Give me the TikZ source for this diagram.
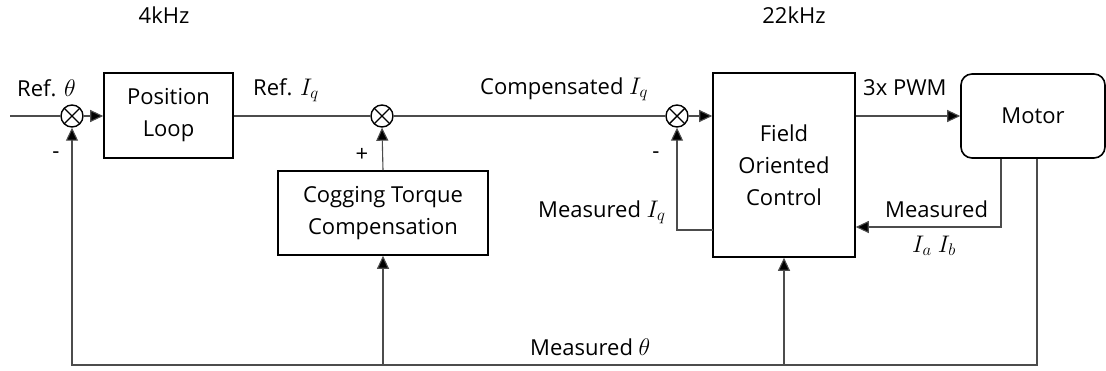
\RequirePackage{fix-cm}
\documentclass[tikz,border=0pt]{standalone}
\usepackage{fontspec}
\setmainfont{Open Sans}
\usetikzlibrary{arrows.meta,calc}
\newcommand{\mymath}[1]{{\fontsize{24}{32}\selectfont$#1$}}
\tikzset{
  lbl/.style={font=\fontsize{22}{32}\selectfont, inner sep=0pt},
  blk/.style={draw=black, line width=1.6pt, rectangle, align=center, font=\fontsize{22}{32}\selectfont, inner sep=0pt},
  sumj/.style={draw=black, line width=1.4pt, circle, minimum size=22pt, inner sep=0pt,
    path picture={\draw[line width=1.4pt] (path picture bounding box.north west) -- (path picture bounding box.south east)
                  (path picture bounding box.north east) -- (path picture bounding box.south west);}},
  wire/.style={draw=black!70, line width=1.1pt},
  arr/.style={wire, -{Triangle[length=13pt,width=12pt,fill=black]}},
}
\begin{document}
\begin{tikzpicture}[x=1pt,y=-1pt]
\useasboundingbox (0,0) rectangle (1106,370);
% blocks
\node[sumj] (s1) at (72,116) {};
\node[blk, minimum width=129pt, minimum height=85pt] (pl) at (168.5,115.5) {Position\\Loop};
\node[sumj] (s2) at (382,116) {};
\node[blk, minimum width=210pt, minimum height=84pt] (ctc) at (383,213) {Cogging Torque\\Compensation};
\node[sumj] (s3) at (677,116) {};
\node[blk, minimum width=142pt, minimum height=184pt] (foc) at (784,165) {Field\\Oriented\\Control};
\node[blk, rounded corners=11pt, minimum width=144pt, minimum height=84pt] (mot) at (1033,116) {Motor};
% coordinates
\coordinate (in) at (10,116);
\coordinate (mi) at (1001,227);
\coordinate (mt) at (1037,365);
\coordinate (fq) at (713,230);
% connectors
\draw[wire] (in) -- (s1.west);
\draw[arr] (s1.east) -- (pl.west |- s1);
\draw[wire] (pl.east |- s2) -- (s2.west);
\draw[wire] (s2.east) -- (s3.west);
\draw[arr] (s3.east) -- (foc.west |- s3);
\draw[arr] (foc.east |- mot) -- (mot.west);
\draw[arr] (ctc.north) -- (s2.south);
\draw[arr] (mot.south -| mi) |- (foc.east |- mi);
\draw[arr] (fq) -| (s3.south);
\draw[arr] (mot.south -| mt) -- (mt) -| (s1.south);
\draw[arr] (ctc.south |- mt) -- (ctc.south);
\draw[arr] (foc.south |- mt) -- (foc.south);
% labels
\node[lbl, anchor=base west] (l1) at (17,96) {Ref. \mymath{\theta}};
\node[lbl] (m1) at (56,155) {-};
\node[lbl, anchor=base west] (l2) at (253,95) {Ref. \mymath{I_q}};
\node[lbl] (p2) at (362,155) {+};
\node[lbl, anchor=base west] (l3) at (480,94) {Compensated \mymath{I_q}};
\node[lbl] (m3) at (656,155) {-};
\node[lbl, anchor=base west] (l4) at (538,217) {Measured \mymath{I_q}};
\node[lbl, anchor=base west] (l5) at (863,95) {3x PWM};
\node[lbl, anchor=base west] (l6) at (885,217) {Measured};
\node[lbl, anchor=base west] (l7) at (912,252) {\mymath{I_a\ I_b}};
\node[lbl, anchor=base west] (l8) at (530,355) {Measured \mymath{\theta}};
\node[lbl] (f1) at (164,15) {4kHz};
\node[lbl] (f2) at (794,15) {22kHz};
\end{tikzpicture}
\end{document}
